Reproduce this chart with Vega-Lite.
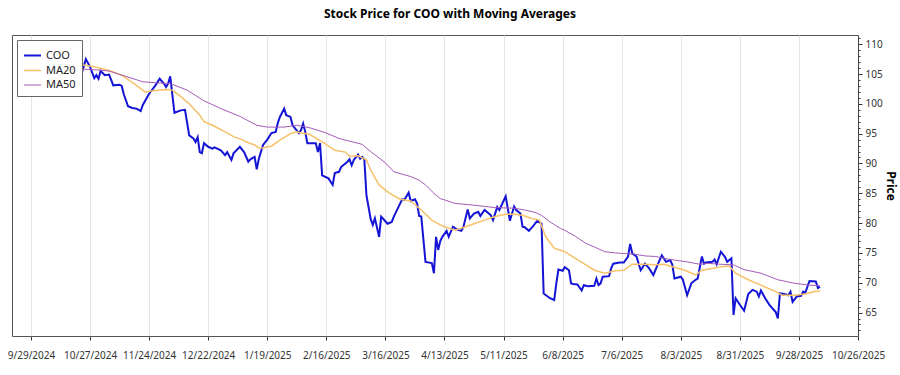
{
"$schema": "https://vega.github.io/schema/vega-lite/v6.json",
"width": 846, "height": 301,
"autosize": {"type": "none"},
"padding": {"left": 12, "top": 35, "right": 42, "bottom": 39},
"background": "white",
"title": {"text": "Stock Price for COO with Moving Averages", "fontSize": 12, "fontWeight": "bold", "font": "Noto Sans", "color": "#000", "offset": 12, "dx": 15},
"data": {"format": {"parse": {"date": "date:'%Y-%m-%d'"}}, "values": [
{"date":"2024-10-08","series":"COO","price":106.0},
{"date":"2024-10-10","series":"COO","price":107.2},
{"date":"2024-10-14","series":"COO","price":105.8},
{"date":"2024-10-16","series":"COO","price":107.6},
{"date":"2024-10-20","series":"COO","price":107.3},
{"date":"2024-10-23","series":"COO","price":105.1},
{"date":"2024-10-25","series":"COO","price":107.5},
{"date":"2024-10-27","series":"COO","price":106.2},
{"date":"2024-10-29","series":"COO","price":104.3},
{"date":"2024-10-30","series":"COO","price":104.8},
{"date":"2024-10-31","series":"COO","price":104.2},
{"date":"2024-11-01","series":"COO","price":105.5},
{"date":"2024-11-03","series":"COO","price":104.8},
{"date":"2024-11-05","series":"COO","price":104.9},
{"date":"2024-11-06","series":"COO","price":104.0},
{"date":"2024-11-07","series":"COO","price":103.1},
{"date":"2024-11-10","series":"COO","price":103.2},
{"date":"2024-11-11","series":"COO","price":103.0},
{"date":"2024-11-12","series":"COO","price":101.6},
{"date":"2024-11-14","series":"COO","price":99.6},
{"date":"2024-11-16","series":"COO","price":99.3},
{"date":"2024-11-18","series":"COO","price":99.2},
{"date":"2024-11-20","series":"COO","price":98.8},
{"date":"2024-11-21","series":"COO","price":99.8},
{"date":"2024-11-24","series":"COO","price":101.7},
{"date":"2024-11-27","series":"COO","price":103.1},
{"date":"2024-11-29","series":"COO","price":104.2},
{"date":"2024-12-01","series":"COO","price":103.4},
{"date":"2024-12-02","series":"COO","price":102.8},
{"date":"2024-12-03","series":"COO","price":103.4},
{"date":"2024-12-04","series":"COO","price":104.6},
{"date":"2024-12-06","series":"COO","price":98.5},
{"date":"2024-12-09","series":"COO","price":98.9},
{"date":"2024-12-11","series":"COO","price":99.0},
{"date":"2024-12-13","series":"COO","price":94.7},
{"date":"2024-12-15","series":"COO","price":94.2},
{"date":"2024-12-16","series":"COO","price":93.6},
{"date":"2024-12-17","series":"COO","price":94.4},
{"date":"2024-12-18","series":"COO","price":91.9},
{"date":"2024-12-19","series":"COO","price":91.7},
{"date":"2024-12-20","series":"COO","price":93.4},
{"date":"2024-12-22","series":"COO","price":92.8},
{"date":"2024-12-24","series":"COO","price":92.5},
{"date":"2024-12-25","series":"COO","price":92.7},
{"date":"2024-12-28","series":"COO","price":92.2},
{"date":"2024-12-30","series":"COO","price":91.4},
{"date":"2024-12-31","series":"COO","price":91.9},
{"date":"2025-01-02","series":"COO","price":90.6},
{"date":"2025-01-03","series":"COO","price":91.7},
{"date":"2025-01-06","series":"COO","price":92.8},
{"date":"2025-01-08","series":"COO","price":91.9},
{"date":"2025-01-10","series":"COO","price":90.3},
{"date":"2025-01-11","series":"COO","price":90.7},
{"date":"2025-01-13","series":"COO","price":91.1},
{"date":"2025-01-14","series":"COO","price":89.0},
{"date":"2025-01-15","series":"COO","price":90.8},
{"date":"2025-01-17","series":"COO","price":93.1},
{"date":"2025-01-19","series":"COO","price":94.0},
{"date":"2025-01-21","series":"COO","price":95.1},
{"date":"2025-01-23","series":"COO","price":95.3},
{"date":"2025-01-24","series":"COO","price":96.8},
{"date":"2025-01-25","series":"COO","price":97.8},
{"date":"2025-01-27","series":"COO","price":99.2},
{"date":"2025-01-28","series":"COO","price":98.1},
{"date":"2025-01-30","series":"COO","price":97.8},
{"date":"2025-01-31","series":"COO","price":96.4},
{"date":"2025-02-03","series":"COO","price":95.1},
{"date":"2025-02-04","series":"COO","price":95.6},
{"date":"2025-02-05","series":"COO","price":96.7},
{"date":"2025-02-06","series":"COO","price":95.3},
{"date":"2025-02-07","series":"COO","price":93.4},
{"date":"2025-02-11","series":"COO","price":93.4},
{"date":"2025-02-12","series":"COO","price":91.9},
{"date":"2025-02-13","series":"COO","price":93.4},
{"date":"2025-02-14","series":"COO","price":88.0},
{"date":"2025-02-17","series":"COO","price":87.5},
{"date":"2025-02-19","series":"COO","price":86.4},
{"date":"2025-02-20","series":"COO","price":88.4},
{"date":"2025-02-22","series":"COO","price":88.6},
{"date":"2025-02-23","series":"COO","price":89.4},
{"date":"2025-02-26","series":"COO","price":90.3},
{"date":"2025-02-27","series":"COO","price":90.7},
{"date":"2025-02-28","series":"COO","price":89.7},
{"date":"2025-03-01","series":"COO","price":90.6},
{"date":"2025-03-03","series":"COO","price":91.5},
{"date":"2025-03-04","series":"COO","price":90.8},
{"date":"2025-03-05","series":"COO","price":91.1},
{"date":"2025-03-06","series":"COO","price":90.7},
{"date":"2025-03-07","series":"COO","price":84.7},
{"date":"2025-03-08","series":"COO","price":82.7},
{"date":"2025-03-09","series":"COO","price":80.7},
{"date":"2025-03-10","series":"COO","price":79.7},
{"date":"2025-03-11","series":"COO","price":80.8},
{"date":"2025-03-13","series":"COO","price":77.7},
{"date":"2025-03-14","series":"COO","price":81.1},
{"date":"2025-03-17","series":"COO","price":79.9},
{"date":"2025-03-19","series":"COO","price":80.2},
{"date":"2025-03-20","series":"COO","price":81.1},
{"date":"2025-03-23","series":"COO","price":83.3},
{"date":"2025-03-24","series":"COO","price":84.0},
{"date":"2025-03-25","series":"COO","price":83.9},
{"date":"2025-03-27","series":"COO","price":85.1},
{"date":"2025-03-28","series":"COO","price":83.7},
{"date":"2025-03-30","series":"COO","price":84.0},
{"date":"2025-03-31","series":"COO","price":83.3},
{"date":"2025-04-01","series":"COO","price":81.2},
{"date":"2025-04-02","series":"COO","price":81.1},
{"date":"2025-04-04","series":"COO","price":73.5},
{"date":"2025-04-07","series":"COO","price":73.3},
{"date":"2025-04-08","series":"COO","price":71.6},
{"date":"2025-04-09","series":"COO","price":77.7},
{"date":"2025-04-10","series":"COO","price":75.5},
{"date":"2025-04-11","series":"COO","price":77.0},
{"date":"2025-04-12","series":"COO","price":77.7},
{"date":"2025-04-14","series":"COO","price":78.7},
{"date":"2025-04-15","series":"COO","price":77.7},
{"date":"2025-04-17","series":"COO","price":79.4},
{"date":"2025-04-19","series":"COO","price":78.9},
{"date":"2025-04-21","series":"COO","price":78.7},
{"date":"2025-04-22","series":"COO","price":79.4},
{"date":"2025-04-24","series":"COO","price":82.3},
{"date":"2025-04-25","series":"COO","price":80.8},
{"date":"2025-04-27","series":"COO","price":81.6},
{"date":"2025-04-29","series":"COO","price":81.9},
{"date":"2025-04-30","series":"COO","price":81.2},
{"date":"2025-05-02","series":"COO","price":82.2},
{"date":"2025-05-04","series":"COO","price":81.6},
{"date":"2025-05-05","series":"COO","price":81.3},
{"date":"2025-05-06","series":"COO","price":80.5},
{"date":"2025-05-08","series":"COO","price":82.7},
{"date":"2025-05-09","series":"COO","price":82.2},
{"date":"2025-05-12","series":"COO","price":84.5},
{"date":"2025-05-14","series":"COO","price":80.4},
{"date":"2025-05-16","series":"COO","price":82.8},
{"date":"2025-05-17","series":"COO","price":82.2},
{"date":"2025-05-19","series":"COO","price":81.6},
{"date":"2025-05-20","series":"COO","price":79.4},
{"date":"2025-05-21","series":"COO","price":79.3},
{"date":"2025-05-23","series":"COO","price":78.7},
{"date":"2025-05-25","series":"COO","price":79.5},
{"date":"2025-05-27","series":"COO","price":80.4},
{"date":"2025-05-29","series":"COO","price":79.9},
{"date":"2025-05-30","series":"COO","price":68.2},
{"date":"2025-06-02","series":"COO","price":67.4},
{"date":"2025-06-04","series":"COO","price":67.1},
{"date":"2025-06-05","series":"COO","price":69.9},
{"date":"2025-06-06","series":"COO","price":72.2},
{"date":"2025-06-08","series":"COO","price":72.0},
{"date":"2025-06-09","series":"COO","price":72.6},
{"date":"2025-06-11","series":"COO","price":72.1},
{"date":"2025-06-12","series":"COO","price":69.9},
{"date":"2025-06-13","series":"COO","price":69.8},
{"date":"2025-06-15","series":"COO","price":69.7},
{"date":"2025-06-17","series":"COO","price":68.7},
{"date":"2025-06-18","series":"COO","price":69.6},
{"date":"2025-06-20","series":"COO","price":69.4},
{"date":"2025-06-23","series":"COO","price":69.5},
{"date":"2025-06-24","series":"COO","price":70.7},
{"date":"2025-06-25","series":"COO","price":69.6},
{"date":"2025-06-26","series":"COO","price":69.9},
{"date":"2025-06-27","series":"COO","price":71.0},
{"date":"2025-06-30","series":"COO","price":71.1},
{"date":"2025-07-01","series":"COO","price":72.4},
{"date":"2025-07-02","series":"COO","price":73.2},
{"date":"2025-07-05","series":"COO","price":73.4},
{"date":"2025-07-07","series":"COO","price":73.4},
{"date":"2025-07-09","series":"COO","price":74.4},
{"date":"2025-07-10","series":"COO","price":76.5},
{"date":"2025-07-11","series":"COO","price":74.9},
{"date":"2025-07-13","series":"COO","price":74.4},
{"date":"2025-07-14","series":"COO","price":73.2},
{"date":"2025-07-15","series":"COO","price":72.1},
{"date":"2025-07-17","series":"COO","price":73.2},
{"date":"2025-07-19","series":"COO","price":72.4},
{"date":"2025-07-21","series":"COO","price":71.3},
{"date":"2025-07-23","series":"COO","price":73.0},
{"date":"2025-07-25","series":"COO","price":74.6},
{"date":"2025-07-27","series":"COO","price":73.5},
{"date":"2025-07-29","series":"COO","price":73.8},
{"date":"2025-07-30","series":"COO","price":73.0},
{"date":"2025-07-31","series":"COO","price":70.7},
{"date":"2025-08-03","series":"COO","price":71.0},
{"date":"2025-08-04","series":"COO","price":70.5},
{"date":"2025-08-06","series":"COO","price":67.9},
{"date":"2025-08-08","series":"COO","price":69.9},
{"date":"2025-08-10","series":"COO","price":70.5},
{"date":"2025-08-11","series":"COO","price":70.7},
{"date":"2025-08-13","series":"COO","price":74.4},
{"date":"2025-08-14","series":"COO","price":73.2},
{"date":"2025-08-15","series":"COO","price":73.4},
{"date":"2025-08-18","series":"COO","price":73.5},
{"date":"2025-08-19","series":"COO","price":73.9},
{"date":"2025-08-20","series":"COO","price":73.1},
{"date":"2025-08-22","series":"COO","price":75.2},
{"date":"2025-08-24","series":"COO","price":74.3},
{"date":"2025-08-25","series":"COO","price":73.5},
{"date":"2025-08-27","series":"COO","price":74.1},
{"date":"2025-08-28","series":"COO","price":64.6},
{"date":"2025-08-29","series":"COO","price":67.4},
{"date":"2025-08-31","series":"COO","price":66.3},
{"date":"2025-09-02","series":"COO","price":65.3},
{"date":"2025-09-04","series":"COO","price":68.1},
{"date":"2025-09-06","series":"COO","price":68.8},
{"date":"2025-09-08","series":"COO","price":68.5},
{"date":"2025-09-09","series":"COO","price":67.7},
{"date":"2025-09-10","series":"COO","price":68.7},
{"date":"2025-09-12","series":"COO","price":67.4},
{"date":"2025-09-14","series":"COO","price":66.3},
{"date":"2025-09-17","series":"COO","price":65.1},
{"date":"2025-09-18","series":"COO","price":64.0},
{"date":"2025-09-19","series":"COO","price":68.2},
{"date":"2025-09-21","series":"COO","price":68.1},
{"date":"2025-09-23","series":"COO","price":67.9},
{"date":"2025-09-24","series":"COO","price":68.5},
{"date":"2025-09-25","series":"COO","price":66.8},
{"date":"2025-09-27","series":"COO","price":67.7},
{"date":"2025-09-29","series":"COO","price":67.8},
{"date":"2025-09-30","series":"COO","price":68.5},
{"date":"2025-10-01","series":"COO","price":68.3},
{"date":"2025-10-03","series":"COO","price":70.3},
{"date":"2025-10-06","series":"COO","price":70.2},
{"date":"2025-10-07","series":"COO","price":69.1},
{"date":"2025-10-08","series":"COO","price":69.3},
{"date":"2024-10-08","series":"MA20","price":106.5},
{"date":"2024-10-14","series":"MA20","price":106.7},
{"date":"2024-10-19","series":"MA20","price":106.75},
{"date":"2024-10-29","series":"MA20","price":106.2},
{"date":"2024-11-05","series":"MA20","price":105.6},
{"date":"2024-11-11","series":"MA20","price":104.8},
{"date":"2024-11-18","series":"MA20","price":103.1},
{"date":"2024-11-22","series":"MA20","price":102.0},
{"date":"2024-11-26","series":"MA20","price":102.2},
{"date":"2024-12-02","series":"MA20","price":102.4},
{"date":"2024-12-05","series":"MA20","price":102.3},
{"date":"2024-12-06","series":"MA20","price":102.0},
{"date":"2024-12-09","series":"MA20","price":101.2},
{"date":"2024-12-13","series":"MA20","price":100.0},
{"date":"2024-12-18","series":"MA20","price":98.1},
{"date":"2024-12-20","series":"MA20","price":97.0},
{"date":"2024-12-24","series":"MA20","price":96.4},
{"date":"2024-12-30","series":"MA20","price":95.3},
{"date":"2025-01-03","series":"MA20","price":94.5},
{"date":"2025-01-07","series":"MA20","price":94.0},
{"date":"2025-01-09","series":"MA20","price":93.6},
{"date":"2025-01-13","series":"MA20","price":93.1},
{"date":"2025-01-15","series":"MA20","price":92.6},
{"date":"2025-01-17","series":"MA20","price":92.6},
{"date":"2025-01-19","series":"MA20","price":92.8},
{"date":"2025-01-21","series":"MA20","price":92.9},
{"date":"2025-01-25","series":"MA20","price":93.9},
{"date":"2025-01-30","series":"MA20","price":95.0},
{"date":"2025-02-02","series":"MA20","price":95.3},
{"date":"2025-02-04","series":"MA20","price":95.1},
{"date":"2025-02-08","series":"MA20","price":94.9},
{"date":"2025-02-15","series":"MA20","price":93.4},
{"date":"2025-02-20","series":"MA20","price":92.2},
{"date":"2025-02-25","series":"MA20","price":91.9},
{"date":"2025-02-27","series":"MA20","price":91.2},
{"date":"2025-03-03","series":"MA20","price":91.3},
{"date":"2025-03-07","series":"MA20","price":90.6},
{"date":"2025-03-09","series":"MA20","price":88.9},
{"date":"2025-03-13","series":"MA20","price":86.4},
{"date":"2025-03-18","series":"MA20","price":85.0},
{"date":"2025-03-23","series":"MA20","price":84.0},
{"date":"2025-03-28","series":"MA20","price":83.7},
{"date":"2025-04-02","series":"MA20","price":82.2},
{"date":"2025-04-07","series":"MA20","price":80.5},
{"date":"2025-04-11","series":"MA20","price":79.7},
{"date":"2025-04-13","series":"MA20","price":79.4},
{"date":"2025-04-18","series":"MA20","price":78.8},
{"date":"2025-04-23","series":"MA20","price":79.4},
{"date":"2025-04-27","series":"MA20","price":79.9},
{"date":"2025-05-02","series":"MA20","price":80.5},
{"date":"2025-05-07","series":"MA20","price":81.1},
{"date":"2025-05-12","series":"MA20","price":81.5},
{"date":"2025-05-16","series":"MA20","price":81.5},
{"date":"2025-05-20","series":"MA20","price":81.3},
{"date":"2025-05-24","series":"MA20","price":80.8},
{"date":"2025-05-28","series":"MA20","price":80.5},
{"date":"2025-05-31","series":"MA20","price":77.7},
{"date":"2025-06-04","series":"MA20","price":75.8},
{"date":"2025-06-09","series":"MA20","price":75.2},
{"date":"2025-06-14","series":"MA20","price":74.1},
{"date":"2025-06-19","series":"MA20","price":73.0},
{"date":"2025-06-23","series":"MA20","price":72.1},
{"date":"2025-06-28","series":"MA20","price":71.6},
{"date":"2025-07-03","series":"MA20","price":72.0},
{"date":"2025-07-07","series":"MA20","price":72.1},
{"date":"2025-07-11","series":"MA20","price":73.1},
{"date":"2025-07-17","series":"MA20","price":73.1},
{"date":"2025-07-22","series":"MA20","price":73.0},
{"date":"2025-07-26","series":"MA20","price":73.1},
{"date":"2025-07-31","series":"MA20","price":72.6},
{"date":"2025-08-05","series":"MA20","price":72.1},
{"date":"2025-08-10","series":"MA20","price":71.3},
{"date":"2025-08-13","series":"MA20","price":72.1},
{"date":"2025-08-18","series":"MA20","price":72.4},
{"date":"2025-08-22","series":"MA20","price":72.7},
{"date":"2025-08-26","series":"MA20","price":72.8},
{"date":"2025-08-29","series":"MA20","price":71.6},
{"date":"2025-09-04","series":"MA20","price":70.5},
{"date":"2025-09-10","series":"MA20","price":69.6},
{"date":"2025-09-17","series":"MA20","price":68.5},
{"date":"2025-09-20","series":"MA20","price":67.9},
{"date":"2025-09-26","series":"MA20","price":67.9},
{"date":"2025-10-01","series":"MA20","price":68.1},
{"date":"2025-10-05","series":"MA20","price":68.5},
{"date":"2025-10-08","series":"MA20","price":68.6},
{"date":"2024-10-08","series":"MA50","price":106.5},
{"date":"2024-10-19","series":"MA50","price":105.9},
{"date":"2024-10-30","series":"MA50","price":105.7},
{"date":"2024-11-05","series":"MA50","price":105.5},
{"date":"2024-11-13","series":"MA50","price":104.6},
{"date":"2024-11-21","series":"MA50","price":103.7},
{"date":"2024-11-28","series":"MA50","price":103.5},
{"date":"2024-12-04","series":"MA50","price":103.4},
{"date":"2024-12-12","series":"MA50","price":102.3},
{"date":"2024-12-20","series":"MA50","price":100.5},
{"date":"2024-12-28","series":"MA50","price":99.2},
{"date":"2025-01-06","series":"MA50","price":97.9},
{"date":"2025-01-14","series":"MA50","price":96.4},
{"date":"2025-01-19","series":"MA50","price":96.1},
{"date":"2025-01-27","series":"MA50","price":96.1},
{"date":"2025-02-02","series":"MA50","price":96.4},
{"date":"2025-02-08","series":"MA50","price":96.0},
{"date":"2025-02-16","series":"MA50","price":95.1},
{"date":"2025-02-22","series":"MA50","price":94.2},
{"date":"2025-03-05","series":"MA50","price":93.2},
{"date":"2025-03-09","series":"MA50","price":92.0},
{"date":"2025-03-16","series":"MA50","price":90.1},
{"date":"2025-03-20","series":"MA50","price":88.6},
{"date":"2025-03-28","series":"MA50","price":87.8},
{"date":"2025-04-01","series":"MA50","price":87.2},
{"date":"2025-04-04","series":"MA50","price":86.4},
{"date":"2025-04-08","series":"MA50","price":85.0},
{"date":"2025-04-11","series":"MA50","price":84.1},
{"date":"2025-04-13","series":"MA50","price":83.9},
{"date":"2025-04-18","series":"MA50","price":83.3},
{"date":"2025-04-27","series":"MA50","price":83.0},
{"date":"2025-05-07","series":"MA50","price":82.6},
{"date":"2025-05-16","series":"MA50","price":82.5},
{"date":"2025-05-21","series":"MA50","price":82.2},
{"date":"2025-05-26","series":"MA50","price":81.8},
{"date":"2025-05-29","series":"MA50","price":81.3},
{"date":"2025-06-02","series":"MA50","price":80.2},
{"date":"2025-06-07","series":"MA50","price":79.1},
{"date":"2025-06-09","series":"MA50","price":78.8},
{"date":"2025-06-14","series":"MA50","price":77.8},
{"date":"2025-06-19","series":"MA50","price":76.6},
{"date":"2025-06-23","series":"MA50","price":76.0},
{"date":"2025-06-28","series":"MA50","price":75.2},
{"date":"2025-07-03","series":"MA50","price":75.0},
{"date":"2025-07-07","series":"MA50","price":74.9},
{"date":"2025-07-12","series":"MA50","price":74.8},
{"date":"2025-07-17","series":"MA50","price":74.5},
{"date":"2025-07-22","series":"MA50","price":74.4},
{"date":"2025-07-26","series":"MA50","price":74.1},
{"date":"2025-07-31","series":"MA50","price":73.8},
{"date":"2025-08-06","series":"MA50","price":73.5},
{"date":"2025-08-12","series":"MA50","price":73.1},
{"date":"2025-08-16","series":"MA50","price":73.25},
{"date":"2025-08-22","series":"MA50","price":73.1},
{"date":"2025-08-28","series":"MA50","price":73.0},
{"date":"2025-09-02","series":"MA50","price":72.2},
{"date":"2025-09-10","series":"MA50","price":71.6},
{"date":"2025-09-18","series":"MA50","price":70.5},
{"date":"2025-09-26","series":"MA50","price":69.9},
{"date":"2025-10-03","series":"MA50","price":69.6},
{"date":"2025-10-08","series":"MA50","price":69.5}
]},
"mark": {"type": "line", "interpolate": "linear"},
"encoding": {
  "x": {"field": "date", "type": "temporal",
    "scale": {"domain": [{"year": 2024, "month": 9, "date": 20}, {"year": 2025, "month": 10, "date": 26}]},
    "axis": {"title": null, "format": "%-m/%-d/%Y",
      "values": [
        {"year": 2024, "month": 9, "date": 29}, {"year": 2024, "month": 10, "date": 27}, {"year": 2024, "month": 11, "date": 24},
        {"year": 2024, "month": 12, "date": 22}, {"year": 2025, "month": 1, "date": 19}, {"year": 2025, "month": 2, "date": 16},
        {"year": 2025, "month": 3, "date": 16}, {"year": 2025, "month": 4, "date": 13}, {"year": 2025, "month": 5, "date": 11},
        {"year": 2025, "month": 6, "date": 8}, {"year": 2025, "month": 7, "date": 6}, {"year": 2025, "month": 8, "date": 3},
        {"year": 2025, "month": 8, "date": 31}, {"year": 2025, "month": 9, "date": 28}, {"year": 2025, "month": 10, "date": 26}],
      "grid": true, "gridColor": "#e6e6e6", "domain": false, "tickColor": "#333", "tickSize": 4,
      "labelPadding": 10, "labelFontSize": 10, "labelColor": "#333", "labelOverlap": false, "labelFlush": false}},
  "y": {"field": "price", "type": "quantitative",
    "scale": {"domain": [61.07, 111.54], "nice": false, "zero": false},
    "axis": {"orient": "right", "title": "Price", "titleFontSize": 12, "titleFontWeight": "bold", "titleColor": "#000", "titleAngle": 90, "titlePadding": 1,
      "values": [62,63,64,65,66,67,68,69,70,71,72,73,74,75,76,77,78,79,80,81,82,83,84,85,86,87,88,89,90,91,92,93,94,95,96,97,98,99,100,101,102,103,104,105,106,107,108,109,110,111],
      "format": "d", "labelExpr": "datum.value % 5 === 0 ? datum.label : ''",
      "tickSize": {"condition": {"test": "datum.value % 5 === 0", "value": 4}, "value": 2},
      "grid": false, "domain": true, "domainColor": "#444", "tickColor": "#333", "labelPadding": 3, "labelFontSize": 10, "labelColor": "#333", "labelOverlap": false}},
  "color": {"field": "series", "type": "nominal",
    "scale": {"domain": ["COO", "MA20", "MA50"], "range": ["#1414d6", "#f6c168", "#a45cb8"]},
    "legend": {"title": null, "orient": "top-left", "offset": 5, "fillColor": "white", "strokeColor": "#666", "padding": 6,
      "symbolType": "stroke", "symbolSize": 289, "symbolStrokeWidth": 2, "labelFontSize": 11, "labelColor": "#222", "rowPadding": 0, "labelOffset": 4}},
  "strokeWidth": {"field": "series", "type": "ordinal",
    "scale": {"domain": ["COO", "MA20", "MA50"], "range": [2, 1, 1]}, "legend": null}
},
"config": {"font": "Noto Sans", "view": {"stroke": "#555", "strokeWidth": 1}}
}
